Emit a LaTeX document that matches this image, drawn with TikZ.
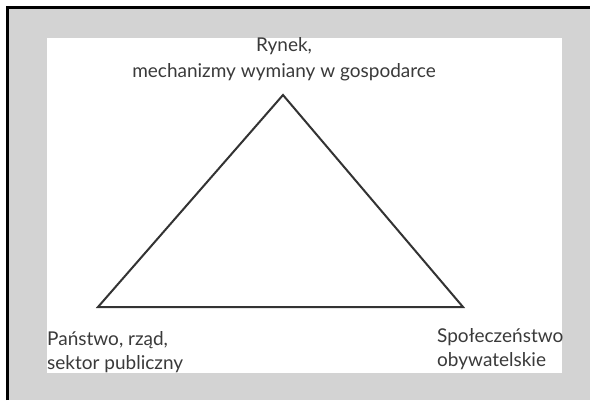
\documentclass[tikz,border=0pt]{standalone}
\usepackage{fontspec}
\setmainfont{Lato}
\definecolor{framegray}{HTML}{D3D3D3}
\definecolor{txtgray}{HTML}{3A3A3A}
\definecolor{linegray}{HTML}{333333}
\begin{document}
\begin{tikzpicture}[x=1pt,y=1pt,
  lbl/.style={inner sep=0pt,text=txtgray},
  tri/.style={draw=linegray,line width=2pt,line join=miter}]
\useasboundingbox (0,0) rectangle (590,400);
\fill[white] (0,0) rectangle (590,400);
\fill[framegray] (7.5,0) rectangle (590,392);
\draw[black,line width=3pt] (7.5,0) -- (7.5,392) -- (590,392);
\fill[white] (47,27) rectangle (562,362);
\coordinate (A) at (283,305);
\coordinate (B) at (98,93);
\coordinate (C) at (463,93);
\draw[tri] (A) -- (B) -- (C) -- cycle;
\node[lbl,align=center,anchor=base,font=\fontsize{19}{26}\selectfont] (top) at (284,322) {Rynek,\\mechanizmy wymiany w gospodarce};
\node[lbl,align=left,anchor=base west,font=\fontsize{19}{23.5}\selectfont] (left) at (47,31) {Państwo, rząd,\\sektor publiczny};
\node[lbl,align=left,anchor=base west,font=\fontsize{19}{23.5}\selectfont] (right) at (437,34) {Społeczeństwo\\obywatelskie};
\end{tikzpicture}
\end{document}
